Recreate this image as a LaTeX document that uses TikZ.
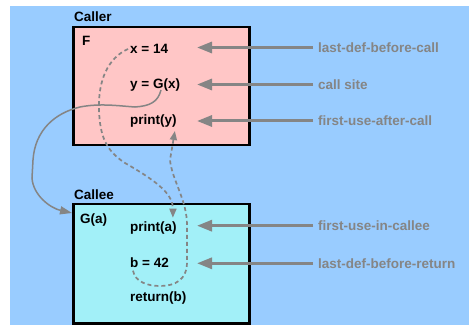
\documentclass[tikz,border=0pt]{standalone}
\usepackage{fontspec}
\setmainfont{Liberation Sans}
\usetikzlibrary{arrows.meta,calc}
\definecolor{bgblue}{HTML}{99CCFF}
\definecolor{callerpink}{HTML}{FFC6C6}
\definecolor{calleecyan}{HTML}{A2F0F8}
\definecolor{labgray}{HTML}{858585}
\begin{document}
\begin{tikzpicture}[x=1pt,y=-1pt,
  txt/.style={font=\fontsize{13.5}{16}\selectfont\bfseries, inner sep=0pt, anchor=base west},
  lab/.style={font=\fontsize{13.5}{16}\selectfont\bfseries, text=labgray, inner sep=0pt,
    anchor=west, text height=12.4pt, text depth=3pt},
  frame/.style={draw=black, line width=2.5pt, anchor=north west, inner sep=0pt,
    minimum width=176pt},
  callout/.style={draw=labgray, line width=3pt, shorten <=5pt,
    -{Triangle[length=15pt,width=11pt]}},
  flow/.style={draw=labgray, line width=1.7pt, dash pattern=on 4pt off 3pt,
    -{Triangle[length=9pt,width=7pt]}},
  callflow/.style={draw=labgray, line width=1.5pt, -{Triangle[length=12pt,width=8pt]}}]

\useasboundingbox (0,0) rectangle (469,326);
\fill[bgblue] (10,6) rectangle (469,325);

% procedure frames
\node[frame, fill=callerpink, minimum height=118pt] (caller) at (72,26) {};
\node[frame, fill=calleecyan, minimum height=119pt] (callee) at (72,203) {};

% frame titles
\node[txt] (callertitle) at (74,21.5) {Caller};
\node[txt] (calleetitle) at (74,199.5) {Callee};
\node[txt] (fname) at (82,46) {F};
\node[txt] (gname) at (80,224) {G(a)};

% statements
\node[txt] (x14)   at (130,54)    {x = 14};
\node[txt] (ygx)   at (130,89)    {y = G(x)};
\node[txt] (printy) at (130,125)  {print(y)};
\node[txt] (printa) at (130,231.7) {print(a)};
\node[txt] (b42)   at (130,267.7) {b = 42};
\node[txt] (retb)  at (130,301.7) {return(b)};

% annotations
\node[lab] (l1) at (318,47.5)  {last-def-before-call};
\node[lab] (l2) at (318,84.5)  {call site};
\node[lab] (l3) at (318,121)   {first-use-after-call};
\node[lab] (l4) at (318,225.7) {first-use-in-callee};
\node[lab] (l5) at (318,263.3) {last-def-before-return};

\coordinate (t1) at (197,47.5);
\coordinate (t2) at (197,84.5);
\coordinate (t3) at (197,121);
\coordinate (t4) at (197,225.7);
\coordinate (t5) at (197,263.3);

\draw[callout] (l1.west) -- (t1);
\draw[callout] (l2.west) -- (t2);
\draw[callout] (l3.west) -- (t3);
\draw[callout] (l4.west) -- (t4);
\draw[callout] (l5.west) -- (t5);

% call edge from the call site into the callee
\coordinate (callsrc) at ($(ygx.base west)+(31,1)$);
\coordinate (calldst) at ($(callee.north west)+(0,10)$);
\draw[callflow] (callsrc) .. controls (158,102) and (150,106) .. (135,107)
  .. controls (120,106) and (100,103) .. (80,107)
  .. controls (55,113) and (35,130) .. (33,160) -- (32,178)
  .. controls (33,195) and (50,208) .. (calldst);

% value flow: argument definition to its use in the callee
\coordinate (xsrc) at ($(x14.base west)+(-2,-5)$);
\coordinate (adst) at ($(printa.north east)+(-4,-4)$);
\draw[flow] (xsrc) .. controls (108,58) and (98,80) .. (99,110)
  .. controls (100,135) and (105,150) .. (125,163)
  .. controls (160,183) and (173,195) .. (adst);

% value flow: returned definition to its use after the call
\coordinate (bsrc) at ($(b42.base west)+(3,3)$);
\coordinate (ydst) at ($(printy.south east)+(-2,3)$);
\draw[flow] (bsrc) .. controls (135,282) and (148,286) .. (160,286)
  .. controls (175,286) and (187,280) .. (187,262) -- (187,225)
  .. controls (187,200) and (172,180) .. (170,160) -- (ydst);

\end{tikzpicture}
\end{document}
